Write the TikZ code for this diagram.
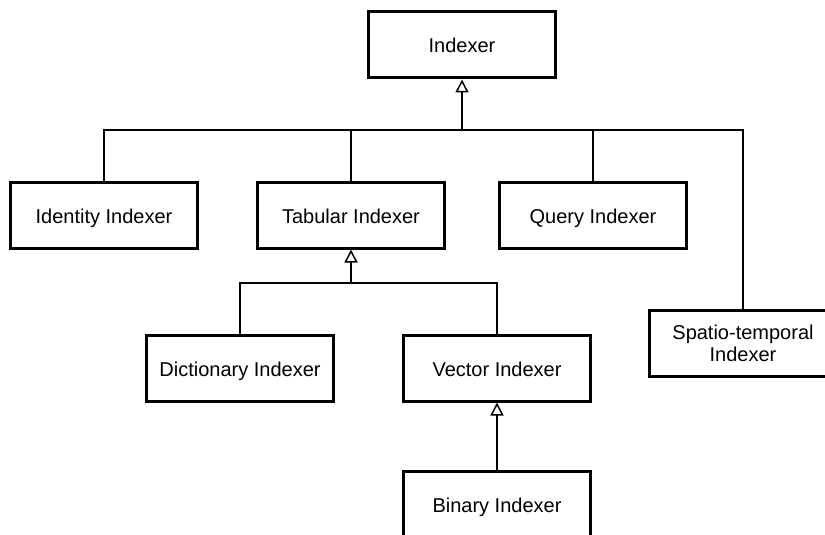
\documentclass[tikz,border=0pt]{standalone}
\usepackage{fontspec}
\setmainfont{Liberation Sans}
\usetikzlibrary{arrows, arrows.meta}

\begin{document}
\begin{tikzpicture}[x=1pt,y=-1pt,>={Triangle[open,length=13pt,width=13pt]},
	cls/.style={draw,line width=3pt,minimum width=187pt,minimum height=66pt,inner sep=0pt,align=center,text height=16pt,text depth=0pt,font=\fontsize{20}{22}\selectfont},
	link/.style={line width=1.5pt}]
	\useasboundingbox (0,0) rectangle (825,535);
	\clip (0,0) rectangle (825,535);
	
	%classes
	\node[cls] (idx)    at (462,45)  {Indexer};
	\node[cls] (ident)  at (104,215) {Identity Indexer};
	\node[cls] (tab)    at (351,215) {Tabular Indexer};
	\node[cls] (query)  at (593,215) {Query Indexer};
	\node[cls,text height=,text depth=] (spatio) at (743,343) {Spatio-temporal\\Indexer};
	\node[cls] (dict)   at (240,368) {Dictionary Indexer};
	\node[cls] (vec)    at (497,368) {Vector Indexer};
	\node[cls] (bin)    at (497,504) {Binary Indexer};
	
	%joints
	\coordinate (idxbus) at (idx.south |- 0,130);
	\coordinate (tabbus) at (tab.south |- 0,283);
	
	%inheritance
	\draw[link,->] (idxbus) -- (idx.south);
	\draw[link] (ident.north) |- (idxbus);
	\draw[link] (tab.north)   |- (idxbus);
	\draw[link] (query.north) |- (idxbus);
	\draw[link] (spatio.north)|- (idxbus);
	\draw[link,->] (tabbus) -- (tab.south);
	\draw[link] (dict.north) |- (tabbus);
	\draw[link] (vec.north)  |- (tabbus);
	\draw[link,->] (bin.north) -- (vec.south);
	%\draw[help lines] (0,0) grid (825,535);
\end{tikzpicture}
\end{document}
